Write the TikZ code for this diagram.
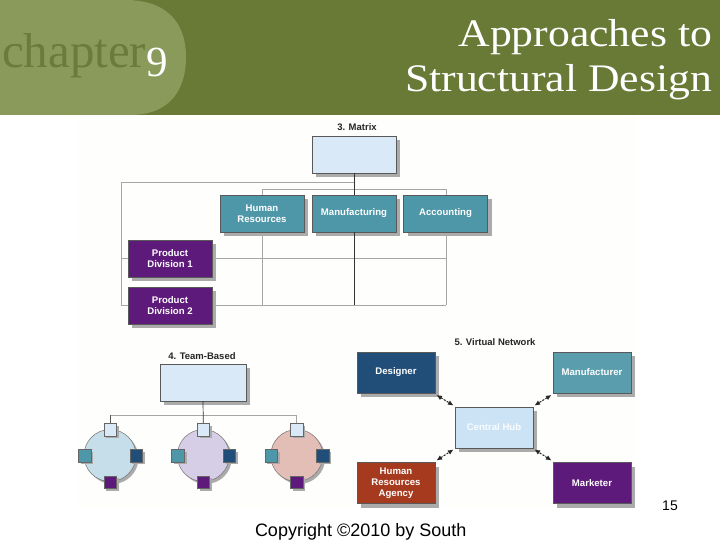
\documentclass[tikz,border=0pt]{standalone}
\usepackage{fontspec}
\setmainfont{Liberation Serif}
\setsansfont{Liberation Sans}
\usetikzlibrary{shadows,arrows.meta,calc}
\definecolor{barGreen}{RGB}{105,122,54}
\definecolor{lightGreen}{RGB}{137,154,91}
\definecolor{chapGreen}{RGB}{106,124,60}
\definecolor{boxBlue}{RGB}{218,233,248}
\definecolor{tealA}{RGB}{78,151,168}
\definecolor{purp}{RGB}{94,26,122}
\definecolor{navy}{RGB}{33,78,120}
\definecolor{tealB}{RGB}{90,158,174}
\definecolor{hubBlue}{RGB}{204,227,245}
\definecolor{rust}{RGB}{166,58,30}
\definecolor{cBlue}{RGB}{197,222,234}
\definecolor{cLav}{RGB}{214,206,230}
\definecolor{cPink}{RGB}{226,190,182}
\definecolor{paper}{RGB}{254,254,252}
\begin{document}
\begin{tikzpicture}[x=1pt,y=-1pt,
  every node/.style={inner sep=0pt,outer sep=0pt},
  sh/.style={drop shadow={shadow xshift=4pt,shadow yshift=-4pt,fill=black!33,opacity=1}},
  shs/.style={drop shadow={shadow xshift=2.5pt,shadow yshift=-2.5pt,fill=black!33,opacity=1}},
  box/.style={draw=black!65,line width=0.6pt,sh,minimum width=84pt,minimum height=37pt,
    align=center,text=white,font=\sffamily\bfseries\fontsize{9.6}{11}\selectfont},
  vbox/.style={box,minimum width=78pt,minimum height=41pt},
  lbl/.style={font=\sffamily\bfseries\fontsize{9.5}{11}\selectfont,text=black!85},
  grid/.style={draw=black!35,line width=0.6pt},
  dark/.style={draw=black!80,line width=0.7pt},
  circ/.style={circle,draw=black!55,line width=0.5pt,minimum size=52pt,shs},
  sq/.style={draw=black!60,line width=0.5pt,minimum size=12.5pt,shs},
  dbl/.style={{Latex[length=5.5pt,width=5pt]}-{Latex[length=5.5pt,width=5pt]},
    dash pattern=on 2.2pt off 1.3pt,line width=1pt,black!85}
]
\useasboundingbox (0,0) rectangle (720,540);
% header
\fill[barGreen] (0,0) rectangle (720,115);
\fill[lightGreen] (0,0) -- (125,0) .. controls (172,0) and (186,28) .. (186,57)
  .. controls (186,92) and (168,115) .. (130,115) -- (0,115) -- cycle;
\node[anchor=base west,text=chapGreen,font=\fontsize{49}{49}\selectfont] (chap) at (2,68) {chapter};
\node[anchor=base west,text=white,font=\fontsize{43}{43}\selectfont] (nine) at (146,77) {9};
\node[anchor=base east,text=white,font=\fontsize{39}{39}\selectfont] (t1) at (712,46.7) {\scalebox{1.12}[1]{Approaches to}};
\node[anchor=base east,text=white,font=\fontsize{39}{39}\selectfont] (t2) at (712,91.7) {\scalebox{1.12}[1]{Structural Design}};
% picture area
\fill[paper] (78,115) rectangle (636,508);
% ---- matrix
\node[lbl] (mlbl) at (357,127) {3. Matrix};
\draw[grid] (354,182.7) -- (121.7,182.7) -- (121.7,305.3) -- (446,305.3);
\draw[grid] (121.7,258.3) -- (446,258.3);
\draw[grid] (262,305.3) -- (262,189) -- (446,189) -- (446,305.3);
\node[box,fill=boxBlue] (mtop) at (354,155) {};
\draw[dark] (mtop.south) -- (354,305.3);
\node[box,fill=tealA] (hr) at (262,213.5) {Human\\Resources};
\node[box,fill=tealA] (mfg) at (354,213.5) {Manufacturing};
\node[box,fill=tealA] (acc) at (445.5,213.5) {Accounting};
\draw[dark] (mfg.south) -- (354,305.3);
\node[box,fill=purp] (pd1) at (170,258.5) {Product\\Division 1};
\node[box,fill=purp] (pd2) at (170,305.5) {Product\\Division 2};
% ---- team based
\node[lbl] (tlbl) at (202,355.7) {4. Team-Based};
\node[box,fill=boxBlue,minimum width=86pt] (tbox) at (203,382.5) {};
\coordinate (tl) at (110,415);
\coordinate (tr) at (296.7,415);
\draw[grid] (tl) -- (tr);
\draw[dark] (tbox.south) -- (203.3,423);
\draw[dark,draw=black!65] (tl) -- (110,423);
\draw[grid] (tr) -- (296.7,423);
\foreach \cx/\cc/\nm in {110/cBlue/a,203.3/cLav/b,296.7/cPink/c}{
  \node[circ,fill=\cc] (c\nm) at (\cx,455.5) {};
  \node[sq,fill=boxBlue] (s\nm t) at (\cx,429.5) {};
  \node[sq,fill=tealA] (s\nm l) at (\cx-25.5,455.5) {};
  \node[sq,fill=navy] (s\nm r) at (\cx+26,455.5) {};
  \node[sq,fill=purp] (s\nm b) at (\cx,482) {};
}
% ---- virtual network
\node[lbl] (vlbl) at (495,342.3) {5. Virtual Network};
\node[vbox,fill=navy] (des) at (396,372.5) {Designer};
\node[vbox,fill=tealB] (man) at (592,372.5) {Manufacturer};
\node[vbox,fill=hubBlue,text=white!88!hubBlue] (hub) at (494,427.5) {Central Hub};
\node[vbox,fill=rust] (hra) at (396,483) {Human\\Resources\\Agency};
\node[vbox,fill=purp] (mkt) at (592,483) {Marketer};
\draw[dbl] ($(des.south east)+(1.5,2)$) -- ($(hub.north west)+(-1.5,-1.5)$);
\draw[dbl] ($(man.south west)+(-1.5,2)$) -- ($(hub.north east)+(1.5,-1.5)$);
\draw[dbl] ($(hra.north east)+(1.5,-2)$) -- ($(hub.south west)+(-1.5,1.5)$);
\draw[dbl] ($(mkt.north west)+(-1.5,-2)$) -- ($(hub.south east)+(1.5,1.5)$);
% footer
\node[anchor=base,font=\sffamily\fontsize{14}{14}\selectfont] (pg) at (670,510) {15};
\node[anchor=base west,font=\sffamily\fontsize{18}{18}\selectfont] (copy) at (255,536) {Copyright ©2010 by South};
\end{tikzpicture}
\end{document}
